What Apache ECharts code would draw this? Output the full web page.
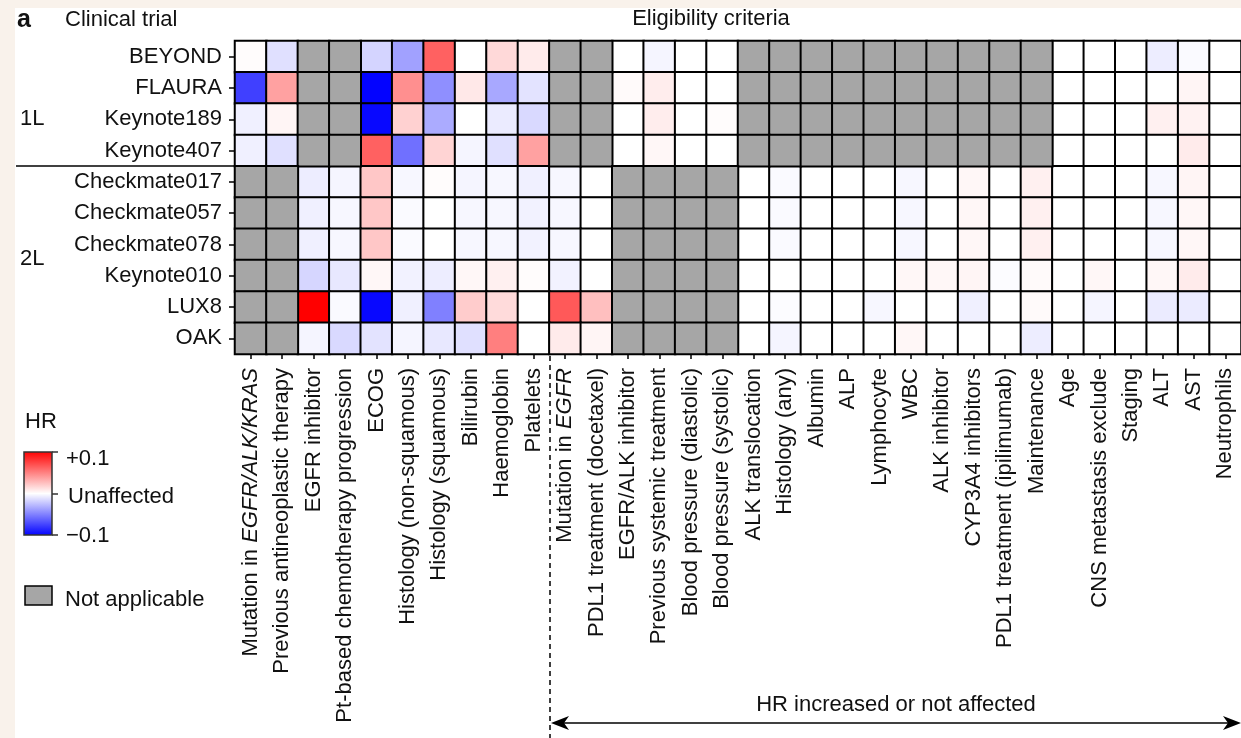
<!DOCTYPE html>
<html>
<head>
<meta charset="utf-8">
<script src="https://cdn.jsdelivr.net/npm/echarts@6.0.0/dist/echarts.min.js"></script>
<style>
  html, body { margin: 0; padding: 0; background: #f9f2eb; }
  #chart { width: 1241px; height: 738px; }
</style>
</head>
<body>
<div id="chart"></div>
<script>
const N = null;
const trials = ['BEYOND', 'FLAURA', 'Keynote189', 'Keynote407', 'Checkmate017',
  'Checkmate057', 'Checkmate078', 'Keynote010', 'LUX8', 'OAK'];
const criteria = [
  'Mutation in EGFR/ALK/KRAS', 'Previous antineoplastic therapy', 'EGFR inhibitor',
  'Pt-based chemotherapy progression', 'ECOG', 'Histology (non-squamous)',
  'Histology (squamous)', 'Bilirubin', 'Haemoglobin', 'Platelets', 'Mutation in EGFR',
  'PDL1 treatment (docetaxel)', 'EGFR/ALK inhibitor', 'Previous systemic treatment',
  'Blood pressure (diastolic)', 'Blood pressure (systolic)', 'ALK translocation',
  'Histology (any)', 'Albumin', 'ALP', 'Lymphocyte', 'WBC', 'ALK inhibitor',
  'CYP3A4 inhibitors', 'PDL1 treatment (ipilimumab)', 'Maintenance', 'Age',
  'CNS metastasis exclude', 'Staging', 'ALT', 'AST', 'Neutrophils'
];
// HR change per criterion (null = not applicable)
const beyond      = [0.001, -0.012, N, N, -0.017, -0.037, 0.062, 0, 0.015, 0.008, N, N, 0, -0.004, 0, 0, N, N, N, N, N, N, N, N, N, N, 0, 0, 0, -0.007, -0.002, 0];
const flaura      = [-0.075, 0.037, N, N, -0.099, 0.044, -0.044, 0.009, -0.034, -0.011, N, N, 0.002, 0.007, 0, 0, N, N, N, N, N, N, N, N, N, N, 0, 0, 0, 0, 0.004, 0];
const keynote189  = [-0.006, 0.004, N, N, -0.097, 0.018, -0.033, 0, -0.008, -0.015, N, N, 0, 0.007, 0, 0.001, N, N, N, N, N, N, N, N, N, N, 0, 0, 0, 0.006, 0.005, 0];
const keynote407  = [-0.006, -0.012, N, N, 0.062, -0.056, 0.017, -0.004, -0.012, 0.037, N, N, 0, 0.003, 0, 0, N, N, N, N, N, N, N, N, N, N, 0, 0, 0, 0, 0.008, 0];
const checkmate017 = [N, N, -0.007, -0.004, 0.022, -0.003, 0.001, -0.004, -0.003, -0.006, -0.003, 0, N, N, N, N, 0, -0.002, 0, 0, 0, -0.003, 0, 0.003, 0, 0.006, 0, 0, 0, -0.003, 0.004, 0];
const checkmate057 = [N, N, -0.006, -0.003, 0.022, -0.002, 0, -0.003, -0.003, -0.005, -0.003, 0, N, N, N, N, 0, -0.002, 0, 0, 0, -0.003, 0, 0.003, 0, 0.006, 0, 0, 0, -0.003, 0.003, 0];
const checkmate078 = [N, N, -0.006, -0.003, 0.022, -0.002, 0, -0.003, -0.003, -0.005, -0.003, 0, N, N, N, N, 0, -0.002, 0, 0, 0, -0.003, 0, 0.003, 0, 0.006, 0, 0, 0, -0.003, 0.003, 0];
const keynote010  = [N, N, -0.016, -0.009, 0.003, -0.005, -0.007, 0.003, 0.006, 0.001, -0.005, 0, N, N, N, N, 0, 0, 0, 0, 0, 0.003, 0.003, 0.004, -0.001, 0.002, 0, 0.003, 0, 0.003, 0.008, 0];
const lux8        = [N, N, 0.1, -0.002, -0.097, -0.006, -0.05, 0.02, 0.014, 0, 0.065, 0.025, N, N, N, N, 0, -0.001, 0, 0, -0.003, 0, 0, -0.006, 0, 0.002, 0, -0.004, 0, -0.008, -0.008, 0];
const oak         = [N, N, -0.004, -0.015, -0.011, -0.004, -0.009, -0.012, 0.05, 0, 0.008, 0.004, N, N, N, N, 0, -0.004, 0, 0, 0, 0.003, 0, 0, 0, -0.007, 0, 0, 0, 0, 0, 0];
const rows = [beyond, flaura, keynote189, keynote407, checkmate017, checkmate057, checkmate078, keynote010, lux8, oak];
const legendTicks = ['+0.1', 'Unaffected', '\u22120.1'];

const heatData = [], naData = [];
rows.forEach((r, i) => r.forEach((v, j) => {
  if (v === null) naData.push([j, i, 1]); else heatData.push([j, i, v]);
}));

const FONT = 'Liberation Sans, Arial, Helvetica, sans-serif';
const FS = 22;
const txt = (x, y, s, extra) => Object.assign({
  type: 'text', silent: true,
  style: Object.assign({ x: x, y: y, text: s, fill: '#111', font: FS + 'px ' + FONT, textVerticalAlign: 'middle' }, extra || {})
});

const chart = echarts.init(document.getElementById('chart'));
chart.setOption({
  backgroundColor: '#f9f2eb',
  animation: false,
  grid: { left: 235, right: 0, top: 41, bottom: 384 },
  xAxis: {
    type: 'category', data: criteria, position: 'bottom',
    axisLine: { show: false },
    axisTick: { show: true, alignWithLabel: true, length: 5, lineStyle: { color: '#000', width: 1.5 } },
    axisLabel: {
      interval: 0, rotate: 90, margin: 14, color: '#111', fontSize: FS, fontFamily: FONT,
      formatter: v => v.startsWith('Mutation in ') ? '{n|Mutation in }{i|' + v.slice(12) + '}' : '{n|' + v + '}',
      rich: {
        n: { fontSize: FS, fontFamily: FONT, color: '#111' },
        i: { fontSize: FS, fontFamily: FONT, color: '#111', fontStyle: 'italic' }
      }
    },
    splitLine: { show: false }
  },
  yAxis: {
    type: 'category', data: trials, inverse: true,
    axisLine: { show: false },
    axisTick: { show: true, alignWithLabel: true, length: 6, lineStyle: { color: '#000', width: 1.5 } },
    axisLabel: { interval: 0, margin: 13, color: '#111', fontSize: FS, fontFamily: FONT },
    splitLine: { show: false }
  },
  visualMap: {
    show: false, min: -0.1, max: 0.1, seriesIndex: 0, dimension: 2,
    inRange: { color: ['#0000ff', '#ffffff', '#ff0000'] }
  },
  series: [
    {
      type: 'heatmap', data: heatData,
      itemStyle: { borderColor: '#000', borderWidth: 2 },
      emphasis: { disabled: true }
    },
    {
      type: 'heatmap', data: naData,
      itemStyle: { color: '#a6a6a6', borderColor: '#000', borderWidth: 2 },
      emphasis: { disabled: true }
    }
  ],
  graphic: [
    { type: 'rect', z: -10, silent: true, shape: { x: 15, y: 8, width: 1300, height: 800 }, style: { fill: '#ffffff' } },
    txt(17, 20, 'a', { font: 'bold 25px ' + FONT }),
    txt(65, 20, 'Clinical trial'),
    txt(711, 19, 'Eligibility criteria', { textAlign: 'center' }),
    txt(20, 119, '1L'),
    txt(20, 259, '2L'),
    { type: 'line', silent: true, shape: { x1: 16, y1: 166, x2: 235, y2: 166 }, style: { stroke: '#000', lineWidth: 1.5 } },
    // legend
    txt(25, 422, 'HR'),
    {
      type: 'rect', silent: true, shape: { x: 24, y: 452, width: 28, height: 83 },
      style: {
        stroke: '#333', lineWidth: 1.5,
        fill: { type: 'linear', x: 0, y: 0, x2: 0, y2: 1, colorStops: [
          { offset: 0, color: '#ff0000' }, { offset: 0.5, color: '#ffffff' }, { offset: 1, color: '#0000ff' }] }
      }
    },
    { type: 'line', silent: true, shape: { x1: 52, y1: 452, x2: 58, y2: 452 }, style: { stroke: '#333', lineWidth: 1.5 } },
    { type: 'line', silent: true, shape: { x1: 52, y1: 494, x2: 58, y2: 494 }, style: { stroke: '#333', lineWidth: 1.5 } },
    { type: 'line', silent: true, shape: { x1: 52, y1: 535, x2: 58, y2: 535 }, style: { stroke: '#333', lineWidth: 1.5 } },
    txt(66, 459, legendTicks[0]),
    txt(68, 497, legendTicks[1]),
    txt(66, 536, legendTicks[2]),
    { type: 'rect', silent: true, shape: { x: 25, y: 586, width: 27, height: 19 }, style: { fill: '#a6a6a6', stroke: '#000', lineWidth: 1.5 } },
    txt(65, 600, 'Not applicable'),
    // divider and arrow
    { type: 'line', silent: true, shape: { x1: 550, y1: 356, x2: 550, y2: 738 }, style: { stroke: '#000', lineWidth: 1.5, lineDash: [5, 4] } },
    { type: 'line', silent: true, shape: { x1: 560, y1: 723, x2: 1232, y2: 723 }, style: { stroke: '#000', lineWidth: 1.5 } },
    { type: 'polygon', silent: true, shape: { points: [[551, 723], [569, 716], [564, 723], [569, 730]] }, style: { fill: '#000' } },
    { type: 'polygon', silent: true, shape: { points: [[1241, 723], [1223, 716], [1228, 723], [1223, 730]] }, style: { fill: '#000' } },
    txt(896, 705, 'HR increased or not affected', { textAlign: 'center' })
  ]
});
</script>
</body>
</html>
